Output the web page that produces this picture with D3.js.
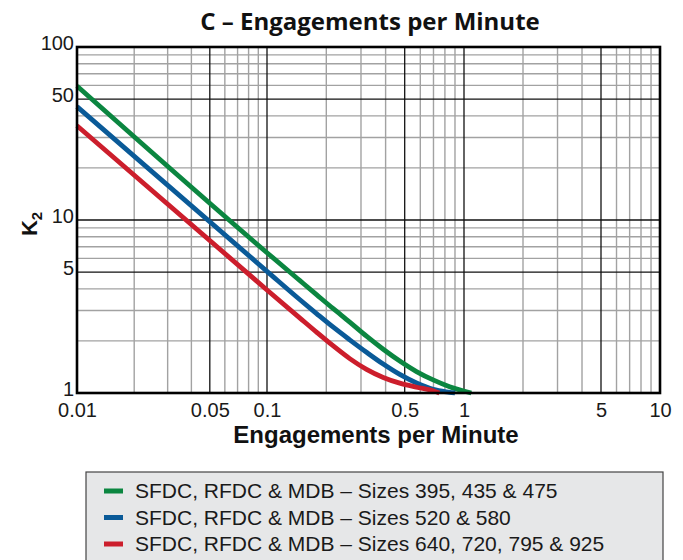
<!DOCTYPE html>
<html>
<head>
<meta charset="utf-8">
<script src="https://cdn.jsdelivr.net/npm/d3@7"></script>
<style>
  body { margin: 0; background: #fff; }
  svg { display: block; }
</style>
</head>
<body>
<svg width="683" height="560"></svg>
<script>
// curves (x = engagements per minute, y = K2)
var greenX = [0.01, 0.1, 0.147, 0.179, 0.217, 0.263, 0.32, 0.389, 0.472, 0.574, 0.697, 0.845, 1.09];
var greenY = [59.5, 6.47, 4.46, 3.69, 3.07, 2.57, 2.13, 1.79, 1.53, 1.33, 1.19, 1.087, 1.0];

var blueX = [0.01, 0.1, 0.147, 0.179, 0.217, 0.263, 0.32, 0.389, 0.472, 0.574, 0.697, 0.845, 0.9];
var blueY = [45.2, 5.05, 3.46, 2.87, 2.40, 2.03, 1.72, 1.47, 1.28, 1.143, 1.05, 1.01, 1.0];

var redX = [0.01, 0.1, 0.147, 0.179, 0.217, 0.263, 0.32, 0.389, 0.472, 0.574, 0.697, 0.75];
var redY = [35.1, 3.94, 2.71, 2.24, 1.87, 1.58, 1.37, 1.23, 1.14, 1.08, 1.03, 1.0];

var seriesNames = [
    "SFDC, RFDC & MDB \u2013 Sizes 395, 435 & 475",
    "SFDC, RFDC & MDB \u2013 Sizes 520 & 580",
    "SFDC, RFDC & MDB \u2013 Sizes 640, 720, 795 & 925"
];

// axis ticks
var xTickValues = [0.01, 0.05, 0.1, 0.5, 1, 5, 10];
var xTickLabels = ["0.01", "0.05", "0.1", "0.5", "1", "5", "10"];
var yTickValues = [1, 5, 10, 50, 100];
var yTickLabels = ["1", "5", "10", "50", "100"];

// grid lines
var xMajorGrid = [0.05, 0.1, 0.5, 1, 5];
var xMinorGrid = [0.02, 0.03, 0.04, 0.06, 0.07, 0.08, 0.09,
                  0.2, 0.3, 0.4, 0.6, 0.7, 0.8, 0.9,
                  2, 3, 4, 6, 7, 8, 9];
var yMajorGrid = [5, 10, 50];
var yMinorGrid = [2, 3, 4, 6, 7, 8, 9, 20, 30, 40, 60, 70, 80, 90];

var svg = d3.select("svg");
var plotLeft = 77, plotRight = 660, plotTop = 47, plotBottom = 393;

// the printed grid is not quite even per decade, so the log scale is piecewise
var x = d3.scaleLog()
    .domain([0.01, 0.1, 1, 10])
    .range([plotLeft, 267, 464, plotRight]);

var y = d3.scaleLog()
    .domain([1, 100])
    .range([plotBottom, plotTop]);

var font = "'Liberation Sans', Arial, sans-serif";

// title
svg.append("text")
    .attr("x", 370)
    .attr("y", 30)
    .attr("text-anchor", "middle")
    .attr("font-family", "'Open Sans', sans-serif")
    .attr("font-weight", 700)
    .attr("font-size", "24px")
    .attr("fill", "#111")
    .text("C \u2013 Engagements per Minute");

var grid = svg.append("g");

// minor grid
grid.selectAll(".vminor")
    .data(xMinorGrid)
    .enter().append("line")
    .attr("x1", function(d) { return x(d); })
    .attr("x2", function(d) { return x(d); })
    .attr("y1", plotTop)
    .attr("y2", plotBottom)
    .attr("stroke", "#a2a2a2")
    .attr("stroke-width", 1.4);

grid.selectAll(".hminor")
    .data(yMinorGrid)
    .enter().append("line")
    .attr("y1", function(d) { return y(d); })
    .attr("y2", function(d) { return y(d); })
    .attr("x1", plotLeft)
    .attr("x2", plotRight)
    .attr("stroke", "#a2a2a2")
    .attr("stroke-width", 1.4);

// major grid
grid.selectAll(".vmajor")
    .data(xMajorGrid)
    .enter().append("line")
    .attr("x1", function(d) { return x(d); })
    .attr("x2", function(d) { return x(d); })
    .attr("y1", plotTop)
    .attr("y2", plotBottom)
    .attr("stroke", "#111")
    .attr("stroke-width", 1.3);

grid.selectAll(".hmajor")
    .data(yMajorGrid)
    .enter().append("line")
    .attr("y1", function(d) { return y(d); })
    .attr("y2", function(d) { return y(d); })
    .attr("x1", plotLeft)
    .attr("x2", plotRight)
    .attr("stroke", "#111")
    .attr("stroke-width", 1.3);

// curves
var series = [
    { x: greenX, y: greenY, color: "#0b8640" },
    { x: blueX, y: blueY, color: "#0a5a98" },
    { x: redX, y: redY, color: "#cc1e2c" }
];

var line = d3.line()
    .x(function(d) { return x(d[0]); })
    .y(function(d) { return y(d[1]); })
    .curve(d3.curveMonotoneX);

svg.append("g")
    .selectAll("path")
    .data(series)
    .enter().append("path")
    .attr("d", function(s) { return line(d3.zip(s.x, s.y)); })
    .attr("fill", "none")
    .attr("stroke", function(s) { return s.color; })
    .attr("stroke-width", 4.8);

// frame
svg.append("rect")
    .attr("x", plotLeft)
    .attr("y", plotTop)
    .attr("width", plotRight - plotLeft)
    .attr("height", plotBottom - plotTop)
    .attr("fill", "none")
    .attr("stroke", "#000")
    .attr("stroke-width", 2.6);

// axes
var xAxis = svg.append("g")
    .attr("transform", "translate(0," + plotBottom + ")")
    .call(d3.axisBottom(x)
        .tickValues(xTickValues)
        .tickSize(0)
        .tickPadding(10)
        .tickFormat(function(d, i) { return xTickLabels[i]; }));
xAxis.select(".domain").remove();
xAxis.selectAll("text")
    .attr("font-family", font)
    .attr("font-size", "20px")
    .attr("fill", "#1a1a1a");

var yAxis = svg.append("g")
    .attr("transform", "translate(" + plotLeft + ",0)")
    .call(d3.axisLeft(y)
        .tickValues(yTickValues)
        .tickSize(0)
        .tickPadding(3)
        .tickFormat(function(d, i) { return yTickLabels[i]; }));
yAxis.select(".domain").remove();
yAxis.selectAll("text")
    .attr("font-family", font)
    .attr("font-size", "20px")
    .attr("fill", "#1a1a1a")
    .attr("dy", "0.12em");

// axis titles
svg.append("text")
    .attr("x", 376)
    .attr("y", 443)
    .attr("text-anchor", "middle")
    .attr("font-family", font)
    .attr("font-weight", "bold")
    .attr("font-size", "24px")
    .attr("fill", "#111")
    .text("Engagements per Minute");

var k2 = svg.append("text")
    .attr("transform", "translate(37,224) rotate(-90)")
    .attr("text-anchor", "middle")
    .attr("font-family", font)
    .attr("font-weight", "bold")
    .attr("font-size", "22px")
    .attr("fill", "#111");
k2.append("tspan").text("K");
k2.append("tspan").attr("font-size", "15px").attr("dy", 5).text("2");

// legend
var legend = svg.append("g");
legend.append("rect")
    .attr("x", 86)
    .attr("y", 472)
    .attr("width", 577)
    .attr("height", 100)
    .attr("fill", "#e6e7e8")
    .attr("stroke", "#444")
    .attr("stroke-width", 1.2);

var rows = legend.selectAll(".row")
    .data(series)
    .enter().append("g")
    .attr("transform", function(d, i) { return "translate(0," + (491 + i * 26.5) + ")"; });

rows.append("line")
    .attr("x1", 104)
    .attr("x2", 123)
    .attr("stroke", function(d) { return d.color; })
    .attr("stroke-width", 5);

rows.append("text")
    .attr("x", 135)
    .attr("dy", "0.35em")
    .attr("font-family", font)
    .attr("font-size", "21px")
    .attr("fill", "#1a1a1a")
    .text(function(d, i) { return seriesNames[i]; });
</script>
</body>
</html>
